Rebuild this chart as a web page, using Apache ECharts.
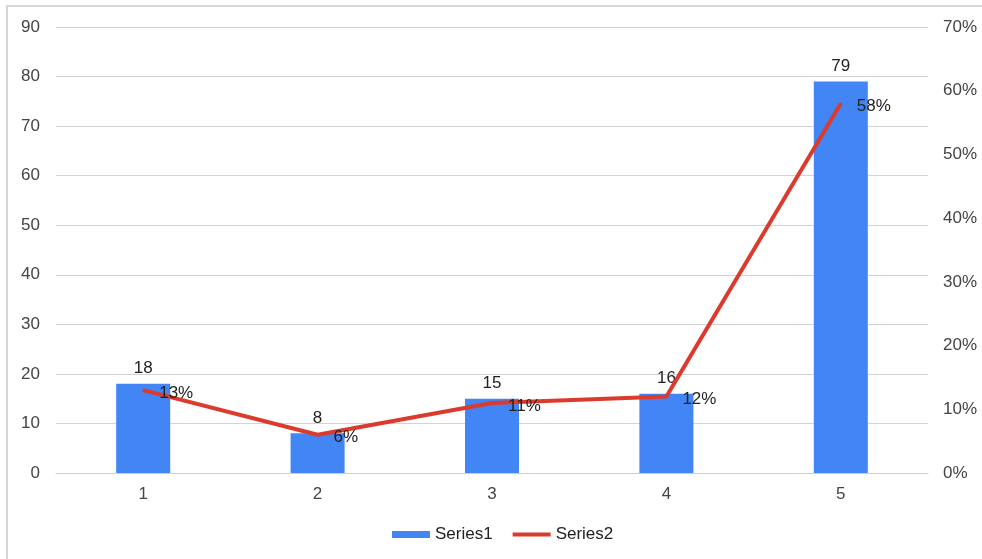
<!DOCTYPE html>
<html>
<head>
<meta charset="utf-8">
<script src="https://cdn.jsdelivr.net/npm/echarts@6/dist/echarts.min.js"></script>
<style>
  html, body { margin: 0; padding: 0; background: #fff; }
  #chart { width: 982px; height: 559px; }
</style>
</head>
<body>
<div id="chart"></div>
<script>
// Categories and values for the combo chart
const categories = ['1', '2', '3', '4', '5'];
const series1Values = [18, 8, 15, 16, 79];
const series2Percent = [13, 6, 11, 12, 58];
const leftTicks = { min: 0, max: 90, interval: 10 };
const rightTicks = { min: 0, max: 70, interval: 10 };

const FONT = '"Liberation Sans", Arial, sans-serif';
const FS = 17;
const chart = echarts.init(document.getElementById('chart'), null, { renderer: 'canvas' });

chart.setOption({
  backgroundColor: '#ffffff',
  animation: false,
  textStyle: { fontFamily: FONT },
  graphic: [{
    type: 'rect',
    silent: true,
    z: -10,
    shape: { x: 7, y: 6, width: 1100, height: 700 },
    style: { fill: 'none', stroke: '#d6d6d6', lineWidth: 2 }
  }],
  grid: { left: 56, right: 54, top: 27, bottom: 86, containLabel: false },
  legend: {
    bottom: 11,
    left: 387,
    itemWidth: 38,
    itemHeight: 7,
    itemGap: 20,
    textStyle: { fontFamily: FONT, fontSize: FS, color: '#222' },
    data: [
      { name: 'Series1', icon: 'rect' },
      // thin bar centred in the 7px-high legend slot
      { name: 'Series2', icon: 'path://M0,0 M0,1.5 L40,1.5 L40,5.5 L0,5.5 Z M0,7' }
    ]
  },
  xAxis: {
    type: 'category',
    data: categories,
    axisTick: { show: false },
    axisLine: { show: true, lineStyle: { color: '#cfcfcf', width: 1 } },
    axisLabel: { color: '#444', fontSize: FS, fontFamily: FONT, margin: 13 }
  },
  yAxis: [{
    type: 'value',
    min: leftTicks.min,
    max: leftTicks.max,
    interval: leftTicks.interval,
    axisLine: { show: false },
    axisTick: { show: false },
    splitLine: { lineStyle: { color: '#d3d3d3', width: 1 } },
    axisLabel: { color: '#444', fontSize: FS, fontFamily: FONT, margin: 16 }
  }, {
    type: 'value',
    min: rightTicks.min,
    max: rightTicks.max,
    interval: rightTicks.interval,
    axisLine: { show: false },
    axisTick: { show: false },
    splitLine: { show: false },
    axisLabel: { color: '#444', fontSize: FS, fontFamily: FONT, margin: 15, formatter: '{value}%' }
  }],
  series: [{
    name: 'Series1',
    type: 'bar',
    data: series1Values,
    barWidth: 54,
    itemStyle: { color: '#4285f4' },
    label: {
      show: true,
      position: 'top',
      distance: 7,
      color: '#222',
      fontSize: FS,
      fontFamily: FONT
    }
  }, {
    name: 'Series2',
    type: 'line',
    yAxisIndex: 1,
    data: series2Percent,
    symbol: 'circle',
    symbolSize: 2,
    showSymbol: true,
    lineStyle: { color: '#db3a2c', width: 4 },
    itemStyle: { color: '#db3a2c' },
    label: {
      show: true,
      position: 'right',
      distance: 15,
      offset: [0, 3],
      color: '#222',
      fontSize: FS,
      fontFamily: FONT,
      formatter: '{c}%'
    }
  }]
});
</script>
</body>
</html>
